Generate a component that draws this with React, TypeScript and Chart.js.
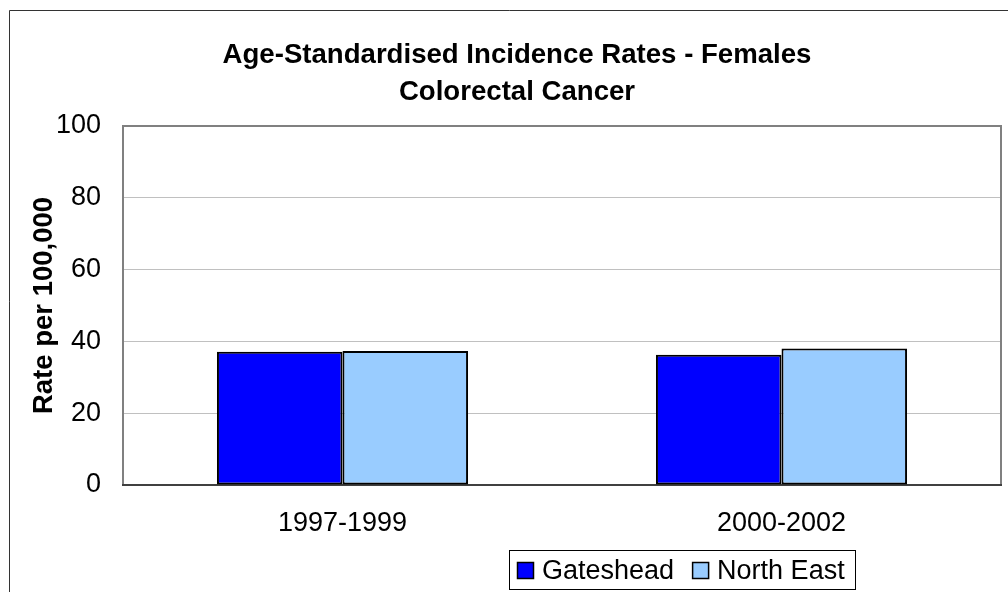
import React, { useEffect, useRef } from "react";
import { Chart, registerables } from "chart.js";

Chart.register(...registerables);

const categories = ["1997-1999", "2000-2002"];
const gatesheadValues = [37.1, 36.3];
const northEastValues = [37.3, 38.0];
const seriesNames = ["Gateshead", "North East"];
const titleLines = ["Age-Standardised Incidence Rates - Females", "Colorectal Cancer"];
const yAxisTitle = "Rate per 100,000";
const yTickValues = [0, 20, 40, 60, 80, 100];

const FONT = "'Liberation Sans', Arial, sans-serif";

const decorPlugin = {
  id: "decor",
  beforeDraw(chart: any) {
    const ctx = chart.ctx;
    ctx.save();
    ctx.fillStyle = "#ffffff";
    ctx.fillRect(0, 0, chart.width, chart.height);
    ctx.strokeStyle = "#333333";
    ctx.lineWidth = 1;
    ctx.beginPath();
    ctx.moveTo(9.5, chart.height + 2);
    ctx.lineTo(9.5, 10.5);
    ctx.lineTo(chart.width + 2, 10.5);
    ctx.stroke();
    ctx.restore();
  },
  beforeDatasetsDraw(chart: any) {
    const { ctx, chartArea } = chart;
    const { left, top, right, bottom } = chartArea;
    ctx.save();
    ctx.lineWidth = 2;
    ctx.strokeStyle = "#808080";
    ctx.beginPath();
    ctx.moveTo(left, bottom);
    ctx.lineTo(left, top);
    ctx.lineTo(right, top);
    ctx.lineTo(right, bottom);
    ctx.stroke();
    ctx.strokeStyle = "#404040";
    ctx.beginPath();
    ctx.moveTo(left - 1, bottom);
    ctx.lineTo(right + 1, bottom);
    ctx.stroke();
    ctx.restore();
  },
  afterDraw(chart: any) {
    const { ctx, chartArea } = chart;
    ctx.save();
    ctx.fillStyle = "#000000";
    ctx.textAlign = "center";
    ctx.textBaseline = "alphabetic";
    ctx.font = `bold 27.6px ${FONT}`;
    ctx.fillText(titleLines[0], 517, 63);
    ctx.fillText(titleLines[1], 517, 100);

    ctx.save();
    ctx.translate(44, (chartArea.top + chartArea.bottom) / 2);
    ctx.rotate(-Math.PI / 2);
    ctx.textBaseline = "middle";
    ctx.font = `bold 27.5px ${FONT}`;
    ctx.fillText(yAxisTitle, 0, 0);
    ctx.restore();

    // legend
    const boxL = 509, boxT = 550, boxR = 856, boxB = 590;
    ctx.fillStyle = "#ffffff";
    ctx.fillRect(boxL, boxT, boxR - boxL, boxB - boxT);
    ctx.strokeStyle = "#000000";
    ctx.lineWidth = 1;
    ctx.strokeRect(boxL + 0.5, boxT + 0.5, boxR - boxL - 1, boxB - boxT - 1);
    ctx.font = `27px ${FONT}`;
    ctx.textAlign = "left";
    ctx.textBaseline = "middle";
    const cy = 571;
    let x = 517;
    chart.data.datasets.forEach((ds: any) => {
      ctx.fillStyle = ds.backgroundColor;
      ctx.fillRect(x, cy - 9, 17, 17);
      ctx.strokeStyle = "#000000";
      ctx.lineWidth = 1.5;
      ctx.strokeRect(x + 0.5, cy - 8.5, 16, 16);
      ctx.fillStyle = "#000000";
      ctx.fillText(ds.label, x + 25, cy + 1);
      x += 25 + ctx.measureText(ds.label).width + 18;
    });
    ctx.restore();
  },
};

export default function App() {
  const canvasRef = useRef<HTMLCanvasElement | null>(null);

  useEffect(() => {
    document.body.style.margin = "0";
    const canvas = canvasRef.current;
    if (!canvas) return;
    const chart = new Chart(canvas, {
      type: "bar",
      data: {
        labels: categories,
        datasets: [
          {
            label: seriesNames[0],
            data: gatesheadValues,
            backgroundColor: "#0000ff",
            borderColor: "#000000",
            borderWidth: 2,
            borderSkipped: false,
            barPercentage: 1,
            categoryPercentage: 0.572,
          },
          {
            label: seriesNames[1],
            data: northEastValues,
            backgroundColor: "#99ccff",
            borderColor: "#000000",
            borderWidth: 2,
            borderSkipped: false,
            barPercentage: 1,
            categoryPercentage: 0.572,
          },
        ],
      },
      options: {
        responsive: false,
        animation: false,
        devicePixelRatio: 1,
        layout: { padding: { left: 0, top: 126, right: 7, bottom: 0 } },
        plugins: {
          legend: { display: false },
          title: { display: false },
          tooltip: { enabled: false },
        },
        scales: {
          x: {
            grid: { display: false, drawTicks: false },
            border: { display: false },
            ticks: {
              color: "#000000",
              font: { family: FONT, size: 27 },
              padding: 22,
            },
            afterFit(scale: any) {
              scale.height = 107;
            },
          },
          y: {
            min: 0,
            max: 100,
            afterBuildTicks(scale: any) {
              scale.ticks = yTickValues.map((v) => ({ value: v }));
            },
            grid: {
              drawTicks: false,
              color: (c: any) =>
                c.tick && (c.tick.value === 0 || c.tick.value === 100) ? "rgba(0,0,0,0)" : "#c0c0c0",
              lineWidth: 1,
            },
            border: { display: false },
            ticks: {
              color: "#000000",
              font: { family: FONT, size: 27 },
              padding: 22,
            },
            afterFit(scale: any) {
              scale.width = 123;
            },
          },
        },
      },
      plugins: [decorPlugin],
    });
    return () => chart.destroy();
  }, []);

  return (
    <div style={{ position: "fixed", left: 0, top: 0, width: 1008, height: 592 }}>
      <canvas ref={canvasRef} width={1008} height={592} style={{ width: 1008, height: 592 }} />
    </div>
  );
}
